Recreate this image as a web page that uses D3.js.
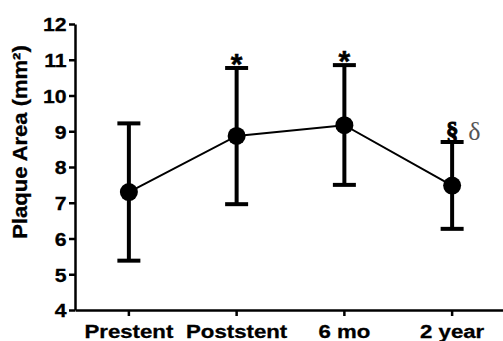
<!DOCTYPE html>
<html><head><meta charset="utf-8">
<script src="https://cdn.jsdelivr.net/npm/d3@7"></script>
<style>body{margin:0;background:#fff}svg{display:block}</style>
</head><body>
<svg id="c" width="503" height="341"></svg>
<script>
const categories = ["Prestent", "Poststent", "6 mo", "2 year"];
const means = [7.3, 8.87, 9.17, 7.48];
const upper = [9.22, 10.77, 10.85, 8.7];
const lower = [5.38, 6.96, 7.5, 6.27];
const marks = ["", "*", "*", "§"];
const yTicks = [4, 5, 6, 7, 8, 9, 10, 11, 12];
const yTitle = "Plaque Area (mm²)";

const svg = d3.select("#c");
const x0 = 75, y0 = 310;
const x = d3.scaleBand().domain(categories).range([x0, 506]);
const y = d3.scaleLinear().domain([4, 12]).range([y0, 24]);
const cx = c => x(c) + x.bandwidth() / 2;
const sans = "'Liberation Sans', Arial, sans-serif";

// axes
const yAxis = svg.append("g").attr("transform", `translate(${x0},0)`)
  .call(d3.axisLeft(y).tickValues(yTicks).tickSize(6).tickPadding(3).tickSizeOuter(0));
const xAxis = svg.append("g").attr("transform", `translate(0,${y0})`)
  .call(d3.axisBottom(x).tickSize(6).tickPadding(4).tickSizeOuter(0));
[yAxis, xAxis].forEach(g => {
  g.select(".domain").attr("stroke", "#000").attr("stroke-width", 2.5);
  g.selectAll(".tick line").attr("stroke", "#000").attr("stroke-width", 2.5);
  g.selectAll("text").attr("fill", "#000").attr("stroke", "#000").attr("stroke-width", 0.3)
    .style("font-family", sans)
    .style("font-weight", "bold").style("font-size", "19px");
});
yAxis.selectAll(".tick text").attr("x", -7.5).attr("dy", "0.36em")
  .attr("transform", "scale(1.12,1)");
xAxis.selectAll(".tick text").attr("y", 0).attr("dy", 0)
  .attr("transform", "translate(0,28) scale(1.17,1)");

// y title
svg.append("text")
  .attr("transform", "translate(27,142) rotate(-90) scale(1.1,1)")
  .attr("text-anchor", "middle")
  .attr("stroke", "#000").attr("stroke-width", 0.3)
  .style("font-family", sans)
  .style("font-weight", "bold").style("font-size", "20px")
  .text(yTitle);

const data = categories.map((c, i) => ({c, m: means[i], hi: upper[i], lo: lower[i], mk: marks[i]}));

// error bars
const eb = svg.append("g").attr("stroke", "#000").attr("stroke-width", 4);
data.forEach(d => {
  eb.append("line").attr("x1", cx(d.c)).attr("x2", cx(d.c)).attr("y1", y(d.hi)).attr("y2", y(d.lo));
  [d.hi, d.lo].forEach(v => eb.append("line")
    .attr("x1", cx(d.c) - 11.5).attr("x2", cx(d.c) + 11.5).attr("y1", y(v)).attr("y2", y(v)));
});

// connecting line
svg.append("path").datum(data)
  .attr("fill", "none").attr("stroke", "#000").attr("stroke-width", 2)
  .attr("d", d3.line().x(d => cx(d.c)).y(d => y(d.m)));

svg.append("g").selectAll("circle").data(data).join("circle")
  .attr("cx", d => cx(d.c)).attr("cy", d => y(d.m)).attr("r", 9).attr("fill", "#000");

// significance marks
data.filter(d => d.mk === "*").forEach(d => {
  svg.append("text").attr("x", cx(d.c)).attr("y", y(d.hi) + 6)
    .attr("text-anchor", "middle")
    .attr("stroke", "#000").attr("stroke-width", 0.5)
    .style("font-family", sans)
    .style("font-weight", "bold").style("font-size", "30px").text(d.mk);
});
data.filter(d => d.mk === "§").forEach(d => {
  svg.append("text").attr("x", cx(d.c)).attr("y", y(d.hi) - 2)
    .attr("text-anchor", "middle")
    .attr("stroke", "#000").attr("stroke-width", 1)
    .style("font-family", "'Liberation Serif', 'Times New Roman', serif")
    .style("font-weight", "bold").style("font-size", "25px").text(d.mk);
  svg.append("text").attr("x", cx(d.c) + 16).attr("y", y(d.hi) - 2)
    .style("font-family", "'Liberation Serif', 'Times New Roman', serif")
    .attr("fill", "#555")
    .style("font-size", "26px").text("δ");
});
</script>
</body></html>
